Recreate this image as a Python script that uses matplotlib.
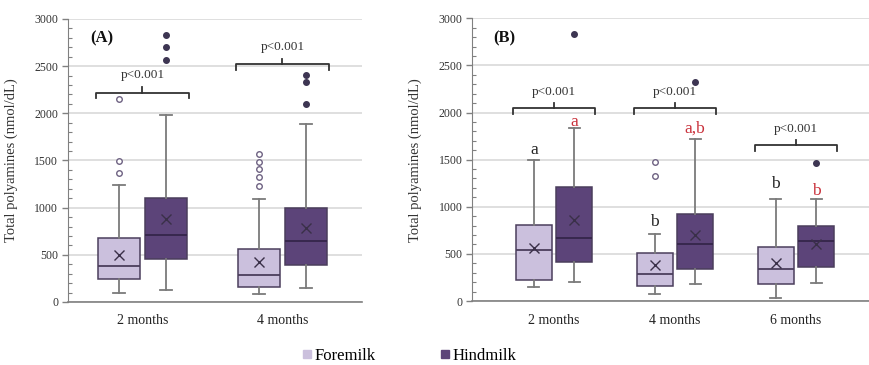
import matplotlib
matplotlib.use("Agg")
import matplotlib.pyplot as plt
from matplotlib.lines import Line2D
from matplotlib.ticker import MultipleLocator

plt.rcParams['font.family'] = ['Liberation Serif', 'DejaVu Serif']

# ---------------- data ----------------
groups_A = ["2 months", "4 months"]
fore_A_q1 = [243, 162]
fore_A_med = [378, 286]
fore_A_q3 = [674, 561]
fore_A_mean = [501, 427]
fore_A_lo = [95, 85]
fore_A_hi = [1235, 1094]
fore_A_fl = [[1370, 1493, 2150], [1228, 1324, 1412, 1483, 1571]]

hind_A_q1 = [455, 395]
hind_A_med = [706, 646]
hind_A_q3 = [1105, 999]
hind_A_mean = [879, 784]
hind_A_lo = [131, 145]
hind_A_hi = [1980, 1892]
hind_A_fl = [[2566, 2704, 2834], [2100, 2333, 2411]]

bracket_A_y = [2220, 2520]
ptext_A_y = [2407, 2707]
ptext_A = ["p<0.001", "p<0.001"]

groups_B = ["2 months", "4 months", "6 months"]
fore_B_q1 = [223, 159, 177]
fore_B_med = [541, 287, 336]
fore_B_q3 = [807, 506, 570]
fore_B_mean = [559, 378, 400]
fore_B_lo = [145, 78, 35]
fore_B_hi = [1493, 711, 1079]
fore_B_fl = [[], [1327, 1472], []]

hind_B_q1 = [414, 336, 364]
hind_B_med = [672, 608, 640]
hind_B_q3 = [1206, 920, 792]
hind_B_mean = [860, 697, 605]
hind_B_lo = [205, 177, 191]
hind_B_hi = [1832, 1719, 1079]
hind_B_fl = [[2837], [2328], [1468]]

bracket_B_y = [2045, 2045, 1655]
ptext_B_y = [2218, 2218, 1822]
ptext_B = ["p<0.001", "p<0.001", "p<0.001"]

letters_fore_B = ["a", "b", "b"]
letters_fore_B_y = [1602, 842, 1238]
letters_hind_B = ["a", "a,b", "b"]
letters_hind_B_y = [1903, 1832, 1171]

series_names = ["Foremilk", "Hindmilk"]

# ---------------- styles ----------------
FORE = "#cbc0dd"
HIND = "#5c4479"
EDGE = "#4b3e5c"
WHISK = "#7b7b7b"
GRID = "#d9d9d9"
DARK = "#333333"
RED = "#c9303a"
OFF = 0.167
BW = 0.30


def stats(q1, med, q3, mean, lo, hi, fl):
    return [dict(q1=a, med=b, q3=c, mean=d, whislo=e, whishi=f, fliers=g)
            for a, b, c, d, e, f, g in zip(q1, med, q3, mean, lo, hi, fl)]


def draw(ax, st, pos, face, flier_face, flier_edge, med_col):
    ax.bxp(st, positions=pos, widths=BW, patch_artist=True, showmeans=True,
           showfliers=True, capwidths=0.09, manage_ticks=False,
           boxprops=dict(facecolor=face, edgecolor=EDGE, linewidth=1.1),
           medianprops=dict(color=med_col, linewidth=1.3),
           whiskerprops=dict(color=WHISK, linewidth=1.3),
           capprops=dict(color=WHISK, linewidth=1.3),
           meanprops=dict(marker='x', markersize=7, markeredgecolor="#3a3048",
                          markeredgewidth=1.0),
           flierprops=dict(marker='o', markersize=4, markerfacecolor=flier_face,
                           markeredgecolor=flier_edge, markeredgewidth=1.0))


def bracket(ax, xc, y, text, ty, half=0.335, drop=60, tick=55):
    ax.plot([xc - half, xc - half, xc + half, xc + half],
            [y - drop, y, y, y - drop], color=DARK, lw=1.3, clip_on=False,
            solid_joinstyle='round')
    ax.plot([xc, xc], [y, y + tick], color=DARK, lw=1.3, clip_on=False)
    ax.text(xc, ty, text, ha='center', va='center', fontsize=9.5, color=DARK)


def style(ax, groups, xlim):
    ax.set_xlim(*xlim)
    ax.set_ylim(0, 3000)
    ax.set_xticks(range(1, len(groups) + 1))
    ax.set_xticklabels(groups, fontsize=10, color="#222222")
    ax.tick_params(axis='x', length=0, pad=9)
    ax.yaxis.set_major_locator(MultipleLocator(500))
    ax.yaxis.set_minor_locator(MultipleLocator(100))
    ax.tick_params(axis='y', which='major', length=4, width=1, color="#808080",
                   labelsize=8.5, labelcolor="#333333", pad=3)
    ax.tick_params(axis='y', which='minor', length=3, width=0.8, color="#808080",
                   direction='in')
    ax.grid(axis='y', color=GRID, linewidth=1.2)
    ax.set_axisbelow(True)
    for s in ['top', 'right']:
        ax.spines[s].set_visible(False)
    ax.spines['left'].set_color("#808080")
    ax.spines['bottom'].set_color("#808080")
    ax.spines['bottom'].set_linewidth(1.2)
    ax.set_ylabel("Total polyamines (nmol/dL)", fontsize=10.5, color="#333333")


fig = plt.figure(figsize=(8.69, 3.65), dpi=100)

# ----- Panel A -----
axA = fig.add_axes([68 / 869, 63 / 365, 294 / 869, 283 / 365])
posA = list(range(1, len(groups_A) + 1))
draw(axA, stats(fore_A_q1, fore_A_med, fore_A_q3, fore_A_mean, fore_A_lo, fore_A_hi, fore_A_fl),
     [p - OFF for p in posA], FORE, "white", "#6e6282", EDGE)
draw(axA, stats(hind_A_q1, hind_A_med, hind_A_q3, hind_A_mean, hind_A_lo, hind_A_hi, hind_A_fl),
     [p + OFF for p in posA], HIND, "#3d3552", "#3d3552", "#35254a")
for p, y, t, ty in zip(posA, bracket_A_y, ptext_A, ptext_A_y):
    bracket(axA, p, y, t, ty)
style(axA, groups_A, (0.468, 2.568))
axA.yaxis.set_label_coords(-0.170, 0.5)
axA.text(0.075, 0.93, "(A)", transform=axA.transAxes, fontsize=12,
         fontweight='bold', ha='left', va='center', color="#111111")

# ----- Panel B -----
axB = fig.add_axes([472.3 / 869, 64 / 365, 396.7 / 869, 282.7 / 365])
posB = list(range(1, len(groups_B) + 1))
draw(axB, stats(fore_B_q1, fore_B_med, fore_B_q3, fore_B_mean, fore_B_lo, fore_B_hi, fore_B_fl),
     [p - OFF for p in posB], FORE, "white", "#6e6282", EDGE)
draw(axB, stats(hind_B_q1, hind_B_med, hind_B_q3, hind_B_mean, hind_B_lo, hind_B_hi, hind_B_fl),
     [p + OFF for p in posB], HIND, "#3d3552", "#3d3552", "#35254a")
for p, y, t, ty in zip(posB, bracket_B_y, ptext_B, ptext_B_y):
    bracket(axB, p, y, t, ty)
for p, t, y in zip(posB, letters_fore_B, letters_fore_B_y):
    axB.text(p - OFF, y, t, ha='center', va='center', fontsize=12.5, color="#222222")
for p, t, y in zip(posB, letters_hind_B, letters_hind_B_y):
    axB.text(p + OFF, y, t, ha='center', va='center', fontsize=12.5, color=RED)
style(axB, groups_B, (0.325, 3.603))
axB.yaxis.set_label_coords(-0.127, 0.5)
axB.text(0.052, 0.93, "(B)", transform=axB.transAxes, fontsize=12,
         fontweight='bold', ha='left', va='center', color="#111111")

# ----- Legend -----
handles = [Line2D([], [], marker='s', linestyle='none', markersize=5.5,
                  markerfacecolor=c, markeredgecolor=c) for c in (FORE, HIND)]
fig.legend(handles, series_names, loc='center', bbox_to_anchor=(0.471, 0.025),
           ncol=2, frameon=False, fontsize=12, handlelength=0.5,
           handletextpad=0.2, columnspacing=3.9, borderaxespad=0)

fig.savefig("out.png", dpi=100)
